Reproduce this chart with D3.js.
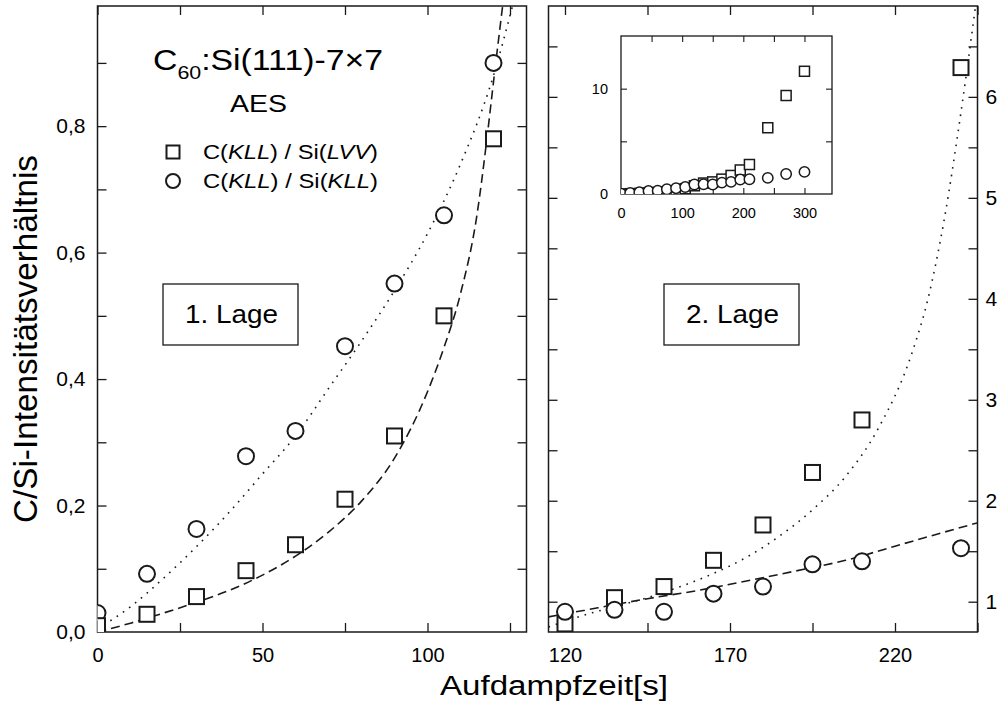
<!DOCTYPE html>
<html><head><meta charset="utf-8">
<script src="https://cdn.jsdelivr.net/npm/d3@7"></script>
<style>
body{margin:0;background:#fff}
svg{display:block}
text{font-family:"Liberation Sans",Arial,Helvetica,sans-serif;fill:#000}
</style>
</head><body>
<svg id="c" width="1005" height="713"></svg>
<script>
// ---------- data ----------
const times    = [0,15,30,45,60,75,90,105,120,135,150,165,180,195,210,240,270,300];
const ratioLVV = [0.01,0.028,0.056,0.097,0.138,0.21,0.31,0.50,0.78,1.04,1.15,1.41,1.76,2.28,2.80,6.29,9.35,11.65];
const ratioKLL = [0.03,0.092,0.163,0.278,0.318,0.452,0.551,0.659,0.90,0.92,0.90,1.08,1.15,1.37,1.40,1.53,1.9,2.1];

// fit curves as drawn
const fitKLL1 = [[0,0.005],[10,0.04],[20,0.085],[30,0.135],[40,0.19],[50,0.25],[60,0.31],[70,0.385],[80,0.46],[90,0.54],[100,0.63],[110,0.74],[120,0.88],[126,0.995]];
const fitLVV1 = [[0,0.0],[10,0.014],[20,0.03],[30,0.047],[40,0.066],[50,0.09],[60,0.12],[70,0.158],[80,0.207],[90,0.275],[100,0.38],[105,0.45],[110,0.535],[115,0.66],[118,0.78],[120,0.87],[123,1.0]];
const fitLVV2 = [[115,0.75],[125,0.86],[135,0.95],[145,1.04],[155,1.15],[165,1.28],[175,1.44],[185,1.65],[195,1.91],[205,2.24],[215,2.72],[225,3.45],[230,4.0],[235,4.8],[240,5.85],[246,7.3]];
const fitKLL2 = [[115,0.85],[130,0.94],[145,1.03],[160,1.11],[175,1.205],[190,1.305],[205,1.41],[220,1.55],[235,1.69],[246,1.79]];

// ticks
const xTicksL = [0,25,50,75,100,125];
const xLabelsL = [0,50,100];
const yTicksL = [0.1,0.2,0.3,0.4,0.5,0.6,0.7,0.8,0.9];
const yLabelsL = [0,0.2,0.4,0.6,0.8];
const xTicksR = [120,145,170,195,220,245];
const xLabelsR = [120,170,220];
const yTicksR = [1,1.5,2,2.5,3,3.5,4,4.5,5,5.5,6,6.5];
const yLabelsR = [1,2,3,4,5,6];
const xTicksI = [50,100,150,200,250,300];
const xLabelsI = [0,100,200,300];
const yTicksI = [5,10];
const yLabelsI = [0,10];

// ---------- scales ----------
const TOP = 6, BOT = 632;
const xL = d3.scaleLinear().domain([0,130]).range([97.5,526.5]);
const yL = d3.scaleLinear().domain([0,0.99]).range([BOT,TOP]);
const xR = d3.scaleLinear().domain([115,245]).range([548.5,977.5]);
const yR = d3.scaleLinear().domain([0.7,6.9]).range([BOT,TOP]);
const xI = d3.scaleLinear().domain([0,345]).range([621,832]);
const yI = d3.scaleLinear().domain([0,15]).range([194,36]);

const svg = d3.select('#c');
const defs = svg.append('defs');
const INK = '#1a1a1a';

function clip(id, x, y){
  defs.append('clipPath').attr('id',id).append('rect')
    .attr('x',x.range()[0]).attr('y',y.range()[1])
    .attr('width',x.range()[1]-x.range()[0]).attr('height',y.range()[0]-y.range()[1]);
}
clip('cL',xL,yL); clip('cR',xR,yR); clip('cI',xI,yI);

function tickSet(x, y, xt, yt, len, sw){
  const g = svg.append('g');
  const mk = (axis, tr) => g.append('g').attr('transform',tr)
      .call(axis.tickSize(-len).tickSizeOuter(0).tickFormat(''))
      .call(a=>{a.select('.domain').remove(); a.selectAll('line').attr('stroke',INK).attr('stroke-width',sw);});
  mk(d3.axisBottom(x).tickValues(xt), `translate(0,${y.range()[0]})`);
  mk(d3.axisTop(x).tickValues(xt), `translate(0,${y.range()[1]})`);
  mk(d3.axisLeft(y).tickValues(yt), `translate(${x.range()[0]},0)`);
  mk(d3.axisRight(y).tickValues(yt), `translate(${x.range()[1]},0)`);
  g.append('rect').attr('x',x.range()[0]).attr('y',y.range()[1])
    .attr('width',x.range()[1]-x.range()[0]).attr('height',y.range()[0]-y.range()[1])
    .attr('fill','none').attr('stroke',INK).attr('stroke-width',sw+0.2);
}
function labels(axis, tr, size, pad, fmt){
  svg.append('g').attr('transform',tr)
    .call(axis.tickSize(0).tickPadding(pad).tickFormat(fmt))
    .call(a=>{a.select('.domain').remove();
      a.selectAll('text').attr('font-size',size).attr('fill','#000')
       .style('font-family','"Liberation Sans",Arial,sans-serif');});
}
const comma = d => d3.format('.1f')(d).replace('.',',');

const line = (x,y) => d3.line().x(d=>x(d[0])).y(d=>y(d[1])).curve(d3.curveMonotoneX);

function curve(pts, x, y, cid, dash){
  svg.append('path').datum(pts).attr('clip-path',`url(#${cid})`)
    .attr('d',line(x,y)).attr('fill','none').attr('stroke',INK)
    .attr('stroke-width',1.6).attr('stroke-dasharray',dash);
}
function squares(idx, x, y, cid, s, sw){
  svg.append('g').attr('clip-path',`url(#${cid})`).selectAll('rect').data(idx).join('rect')
    .attr('x',i=>x(times[i])-s/2).attr('y',i=>y(ratioLVV[i])-s/2)
    .attr('width',s).attr('height',s).attr('fill','#fff').attr('stroke',INK).attr('stroke-width',sw);
}
function circles(idx, x, y, cid, r, sw){
  svg.append('g').attr('clip-path',`url(#${cid})`).selectAll('circle').data(idx).join('circle')
    .attr('cx',i=>x(times[i])).attr('cy',i=>y(ratioKLL[i])).attr('r',r)
    .attr('fill','#fff').attr('stroke',INK).attr('stroke-width',sw);
}
const idxIn = (lo,hi) => times.map((t,i)=>i).filter(i=>times[i]>=lo && times[i]<=hi);

// ---------- left panel (1. Lage) ----------
tickSet(xL, yL, xTicksL, yTicksL, 9, 1.3);
labels(d3.axisBottom(xL).tickValues(xLabelsL), `translate(0,${BOT})`, 20, 16, d3.format('d'));
labels(d3.axisLeft(yL).tickValues(yLabelsL), `translate(${xL.range()[0]},0)`, 21, 12, comma);
curve(fitKLL1, xL, yL, 'cL', '1.6,6');
curve(fitLVV1, xL, yL, 'cL', '9,5');
const iL = idxIn(0,130);
circles(iL, xL, yL, 'cL', 8, 2);
squares(iL, xL, yL, 'cL', 15, 2);

// ---------- right panel (2. Lage) ----------
tickSet(xR, yR, xTicksR, yTicksR, 9, 1.3);
labels(d3.axisBottom(xR).tickValues(xLabelsR), `translate(0,${BOT})`, 20, 16, d3.format('d'));
labels(d3.axisRight(yR).tickValues(yLabelsR), `translate(${xR.range()[1]},0)`, 21, 8, d3.format('d'));
curve(fitLVV2, xR, yR, 'cR', '1.6,6');
curve(fitKLL2, xR, yR, 'cR', '9,5');
const iR = idxIn(115,245);
squares(iR, xR, yR, 'cR', 15, 2);
circles(iR, xR, yR, 'cR', 8, 2);

// ---------- inset ----------
svg.append('rect').attr('x',xI.range()[0]).attr('y',yI.range()[1])
  .attr('width',xI.range()[1]-xI.range()[0]).attr('height',yI.range()[0]-yI.range()[1]).attr('fill','#fff');
tickSet(xI, yI, xTicksI, yTicksI, 6, 1.1);
labels(d3.axisBottom(xI).tickValues(xLabelsI), `translate(0,${yI.range()[0]})`, 14.5, 14, d3.format('d'));
labels(d3.axisLeft(yI).tickValues(yLabelsI), `translate(${xI.range()[0]},0)`, 14.5, 13, d3.format('d'));
const iI = idxIn(0,345);
squares(iI, xI, yI, 'cI', 10, 1.5);
circles(iI, xI, yI, 'cI', 5.2, 1.5);

// ---------- annotations ----------
const title = svg.append('text').attr('x',153).attr('y',70).attr('font-size',30)
  .attr('textLength',230).attr('lengthAdjust','spacingAndGlyphs');
title.append('tspan').text('C');
title.append('tspan').attr('font-size',19).attr('dy',9).text('60');
title.append('tspan').attr('dy',-9).text(':Si(111)-7×7');

svg.append('text').attr('x',230).attr('y',112).attr('font-size',24)
  .attr('textLength',57).attr('lengthAdjust','spacingAndGlyphs').text('AES');

// legend
svg.append('rect').attr('x',173-6.5).attr('y',152-6.5).attr('width',13).attr('height',13)
  .attr('fill','#fff').attr('stroke',INK).attr('stroke-width',2);
svg.append('circle').attr('cx',173).attr('cy',181).attr('r',7)
  .attr('fill','#fff').attr('stroke',INK).attr('stroke-width',2);
function legendText(y, parts){
  const t = svg.append('text').attr('x',203).attr('y',y).attr('font-size',20)
    .attr('textLength',175).attr('lengthAdjust','spacingAndGlyphs');
  parts.forEach(p => t.append('tspan').attr('font-style',p[1]?'italic':'normal').text(p[0]));
}
legendText(159, [['C(',0],['KLL',1],[') / Si(',0],['LVV',1],[')',0]]);
legendText(188, [['C(',0],['KLL',1],[') / Si(',0],['KLL',1],[')',0]]);

// layer boxes
function layerBox(x0, label){
  svg.append('rect').attr('x',x0).attr('y',284).attr('width',135).attr('height',61)
    .attr('fill','#fff').attr('stroke',INK).attr('stroke-width',1.3);
  svg.append('text').attr('x',x0+22).attr('y',323).attr('font-size',26)
    .attr('textLength',93).attr('lengthAdjust','spacingAndGlyphs').text(label);
}
layerBox(163, '1. Lage');
layerBox(664, '2. Lage');

// axis titles
svg.append('text').attr('x',440).attr('y',695).attr('font-size',27)
  .attr('textLength',228).attr('lengthAdjust','spacingAndGlyphs').text('Aufdampfzeit[s]');
svg.append('text').attr('transform','translate(37,339) rotate(-90)').attr('text-anchor','middle')
  .attr('font-size',34).attr('textLength',368).attr('lengthAdjust','spacingAndGlyphs')
  .text('C/Si-Intensitätsverhältnis');
</script>
</body></html>
